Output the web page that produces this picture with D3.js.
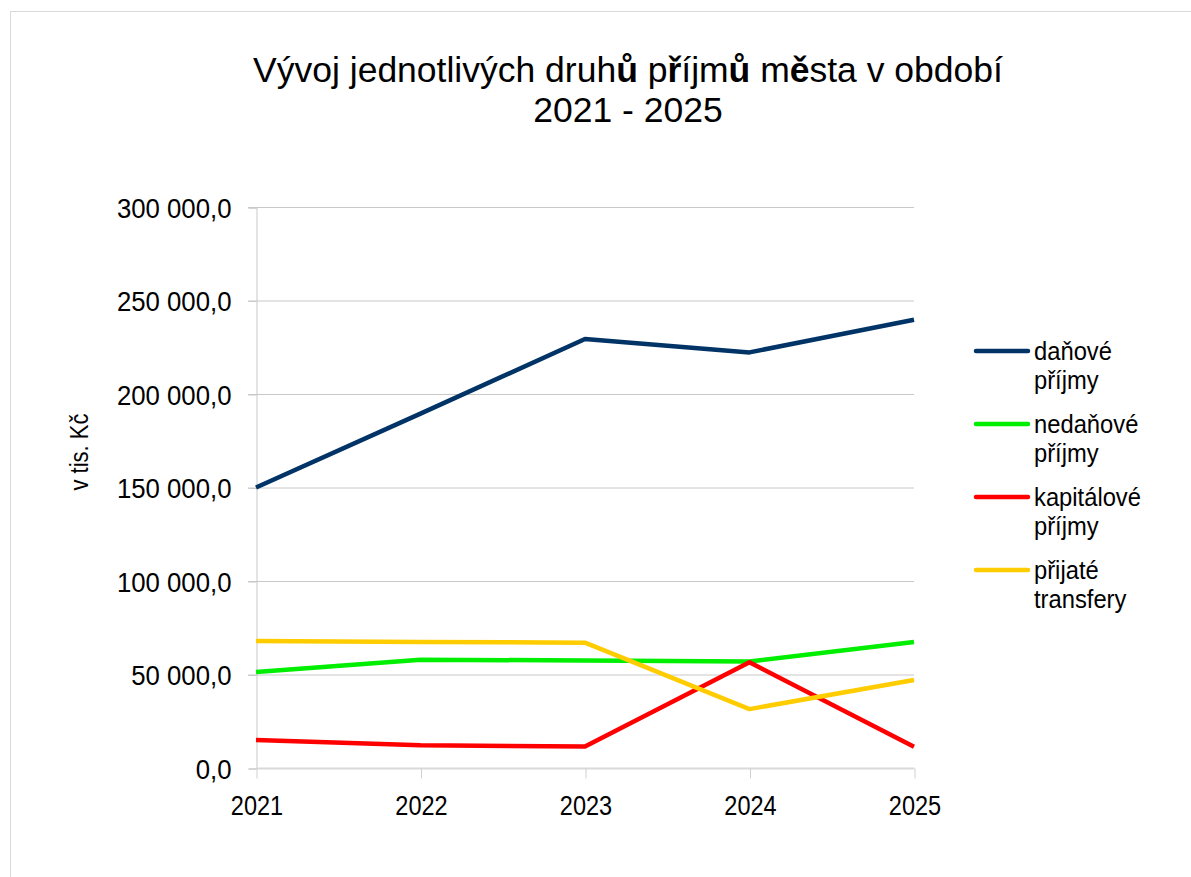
<!DOCTYPE html>
<html>
<head>
<meta charset="utf-8">
<script src="https://cdn.jsdelivr.net/npm/d3@7"></script>
<style>
  body { margin: 0; background: #fff; }
  text { font-family: "Liberation Sans", Arial, sans-serif; fill: #000; }
</style>
</head>
<body>
<svg width="1191" height="877"></svg>
<script>
const years = ['2021', '2022', '2023', '2024', '2025'];
const yTicks = [0, 50000, 100000, 150000, 200000, 250000, 300000];

// values in tis. Kč
const danove = [150000, 189500, 229400, 222250, 239700];
const nedanove = [51300, 57900, 57500, 57000, 67400];
const kapitalove = [15000, 12100, 11550, 56500, 11400];
const transfery = [67900, 67400, 67000, 31500, 47100];

const seriesNames = [['daňové', 'příjmy'], ['nedaňové', 'příjmy'], ['kapitálové', 'příjmy'], ['přijaté', 'transfery']];
const seriesColors = ['#003366', '#00ee00', '#ff0000', '#ffcc00'];
const seriesValues = [danove, nedanove, kapitalove, transfery];

const svg = d3.select('svg');

// the original font is a narrow one: squeeze labels horizontally
function squeeze(sel, k) {
  sel.each(function () {
    const len = this.getComputedTextLength();
    d3.select(this).attr('textLength', len * k).attr('lengthAdjust', 'spacingAndGlyphs');
  });
}

// outer frame
svg.append('rect')
    .attr('x', 10.5).attr('y', 11.5)
    .attr('width', 1200).attr('height', 900)
    .attr('fill', 'none')
    .attr('stroke', '#d9d9d9');

const x = d3.scalePoint().domain(years).range([256, 914]);
const y = d3.scaleLinear().domain([0, 300000]).range([768, 207]);

const fmt = v => d3.format(',.1f')(v).replace(/,/g, ' ').replace('.', ',');

// gridlines
svg.append('g')
    .selectAll('line')
    .data(yTicks.slice(1))
    .join('line')
    .attr('x1', 248).attr('x2', 914)
    .attr('y1', d => y(d) + 0.5).attr('y2', d => y(d) + 0.5)
    .attr('stroke', '#c8c8c8');

// y axis
const yAxis = svg.append('g')
    .attr('transform', 'translate(256.5,0.5)')
    .call(d3.axisLeft(y).tickValues(yTicks).tickFormat(fmt).tickSize(8).tickPadding(17));
yAxis.select('.domain').attr('stroke', '#c8c8c8');
yAxis.selectAll('.tick line').attr('stroke', '#c8c8c8');
yAxis.selectAll('.tick text').attr('font-size', 28).attr('fill', '#000').attr('dy', '0.35em');
squeeze(yAxis.selectAll('.tick text'), 0.92);

// x axis
const xAxis = svg.append('g')
    .attr('transform', 'translate(0.5,768.5)')
    .call(d3.axisBottom(x).tickSize(10).tickPadding(14).tickSizeOuter(0));
xAxis.select('.domain').attr('stroke', '#d9d9d9').attr('stroke-width', 2).attr('d', 'M256,0H914');
xAxis.selectAll('.tick line').attr('stroke', '#d0d0d0');
xAxis.selectAll('.tick text').attr('font-size', 28).attr('fill', '#000').attr('y', 46).attr('dy', 0);
squeeze(xAxis.selectAll('.tick text'), 0.84);

// lines
const line = d3.line().x((d, i) => x(years[i])).y(d => y(d));
svg.append('g')
    .selectAll('path')
    .data(seriesValues)
    .join('path')
    .attr('d', line)
    .attr('fill', 'none')
    .attr('stroke', (d, i) => seriesColors[i])
    .attr('stroke-width', 4.5)
    .attr('stroke-linejoin', 'round');

// title
const title = svg.append('text')
    .attr('x', 628).attr('y', 82)
    .attr('text-anchor', 'middle')
    .attr('font-size', 35.5);
[['Vývoj jednotlivých druh', false], ['ů', true], [' p', false], ['ř', true], ['íjm', false], ['ů', true],
 [' m', false], ['ě', true], ['sta v období', false]].forEach(p => {
  title.append('tspan').attr('font-weight', p[1] ? 'bold' : null).text(p[0]);
});
svg.append('text')
    .attr('x', 628).attr('y', 122)
    .attr('text-anchor', 'middle')
    .attr('font-size', 35.5)
    .text('2021 - 2025');

// y axis title
const yTitle = svg.append('text')
    .attr('transform', 'translate(88,452) rotate(-90)')
    .attr('text-anchor', 'middle')
    .attr('font-size', 25)
    .text('v tis. Kč');
squeeze(yTitle, 0.88);

// legend
const legend = svg.append('g')
    .selectAll('g')
    .data(seriesNames)
    .join('g')
    .attr('transform', (d, i) => `translate(976,${351 + i * 73})`);
legend.append('line')
    .attr('x1', 0).attr('x2', 52)
    .attr('stroke', (d, i) => seriesColors[i])
    .attr('stroke-width', 4.5)
    .attr('stroke-linecap', 'round');
legend.append('text')
    .attr('x', 58).attr('y', 9)
    .attr('font-size', 25)
    .text(d => d[0]);
legend.append('text')
    .attr('x', 58).attr('y', 38)
    .attr('font-size', 25)
    .text(d => d[1]);
squeeze(legend.selectAll('text'), 0.95);
</script>
</body>
</html>
